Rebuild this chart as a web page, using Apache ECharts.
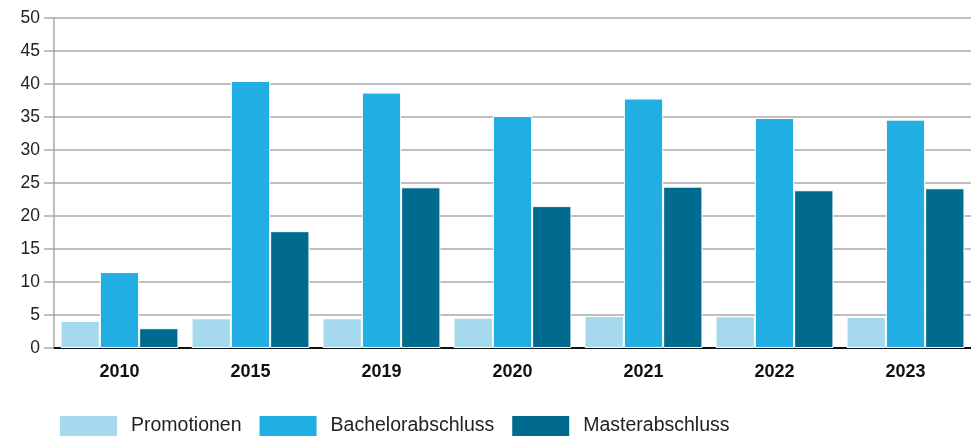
<!DOCTYPE html>
<html>
<head>
<meta charset="utf-8">
<script src="https://cdn.jsdelivr.net/npm/echarts@6/dist/echarts.min.js"></script>
<style>
	html, body { margin: 0; padding: 0; background: #fff; }
	#chart { width: 971px; height: 436px; }
</style>
</head>
<body>
<div id="chart"></div>
<script>
// Daten
const jahre = ["2010", "2015", "2019", "2020", "2021", "2022", "2023"];
const promotionen = [4.1, 4.5, 4.5, 4.6, 4.85, 4.8, 4.7];
const bachelor = [11.5, 40.45, 38.7, 35.15, 37.8, 34.85, 34.6];
const master = [3.0, 17.7, 24.35, 21.5, 24.45, 23.9, 24.2];
const yTicks = [0, 5, 10, 15, 20, 25, 30, 35, 40, 45, 50];

const farben = ["#a4d9ee", "#20aee3", "#016a8f"];

let myChart = echarts.init(document.getElementById("chart"));

function bar(name, data, color) {
	return {
		name: name,
		type: "bar",
		data: data,
		barGap: 0,
		barCategoryGap: "10%",
		itemStyle: {
			color: color,
			borderColor: "#fff",
			borderWidth: 1
		}
	};
}

myChart.setOption({
	animation: false,
	grid: {
		left: 54,
		right: 0,
		top: 18,
		bottom: 88
	},
	legend: {
		left: 58,
		top: 414,
		padding: 0,
		itemWidth: 59,
		itemHeight: 22,
		itemGap: 16,
		icon: "rect",
		textStyle: {
			fontFamily: "Liberation Sans, Arial, sans-serif",
			fontSize: 19.5,
			color: "#222",
			padding: [0, 0, 0, 8]
		},
		data: ["Promotionen", "Bachelorabschluss", "Masterabschluss"]
	},
	xAxis: {
		type: "category",
		data: jahre,
		axisLine: { lineStyle: { color: "#111", width: 2 } },
		axisTick: { show: false },
		axisLabel: {
			margin: 15,
			fontFamily: "Liberation Sans, Arial, sans-serif",
			fontWeight: "bold",
			fontSize: 18,
			color: "#111"
		}
	},
	yAxis: {
		type: "value",
		min: 0,
		max: 50,
		interval: 5,
		axisLine: { show: true, lineStyle: { color: "#aaa", width: 1.5 } },
		axisTick: { show: true, length: 10, lineStyle: { color: "#aaa", width: 1.5 } },
		splitLine: { lineStyle: { color: "#aaa", width: 1.5 } },
		axisLabel: {
			margin: 14,
			fontFamily: "Liberation Sans, Arial, sans-serif",
			fontSize: 17.5,
			color: "#222",
			formatter: function (v) {
				return yTicks.indexOf(v) >= 0 ? String(v) : "";
			}
		}
	},
	series: [
		bar("Promotionen", promotionen, farben[0]),
		bar("Bachelorabschluss", bachelor, farben[1]),
		bar("Masterabschluss", master, farben[2])
	]
});
</script>
</body>
</html>
